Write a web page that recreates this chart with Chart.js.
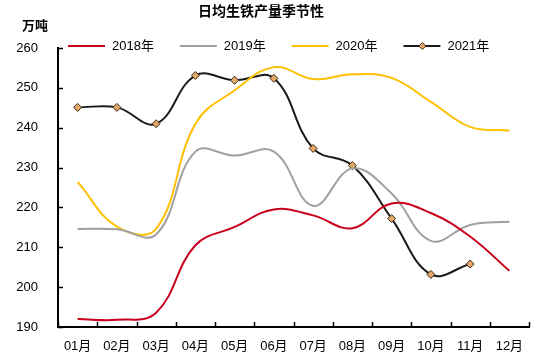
<!DOCTYPE html>
<html>
<head>
<meta charset="utf-8">
<script src="https://cdn.jsdelivr.net/npm/chart.js@4"></script>
<style>
  html, body { margin: 0; padding: 0; background: #fff; }
  #wrap { width: 550px; height: 360px; }
</style>
</head>
<body>
<div id="wrap"><canvas id="c" width="550" height="360"></canvas></div>
<script>
var months = ['01月', '02月', '03月', '04月', '05月', '06月', '07月', '08月', '09月', '10月', '11月', '12月'];
var y2018 = [192.0, 191.8, 193.6, 210.5, 215.1, 219.5, 218.0, 214.8, 221.0, 218.6, 212.7, 204.1];
var y2019 = [214.6, 214.5, 213.2, 234.0, 233.0, 234.0, 220.4, 229.8, 223.5, 211.6, 215.6, 216.4];
var y2020 = [226.4, 215.2, 214.6, 241.0, 249.4, 255.2, 252.2, 253.4, 252.5, 246.5, 240.2, 239.3];
var y2021 = [245.1, 245.1, 241.0, 253.1, 251.9, 252.4, 234.8, 230.5, 217.2, 203.2, 205.8, null];
var seriesNames = ['2018年', '2019年', '2020年', '2021年'];
var yTicks = [190, 200, 210, 220, 230, 240, 250, 260];

var FONT = '"Liberation Sans", Arial, "Noto Sans CJK SC", sans-serif';
var CJK = '"Noto Sans CJK SC", "Liberation Sans", sans-serif';

// title, unit, legend and inward tick marks
var decor = {
    id: 'decor',
    afterDraw: function (chart) {
        var ctx = chart.ctx;
        var xs = chart.scales.x;
        var ys = chart.scales.y;
        var area = chart.chartArea;
        ctx.save();

        ctx.fillStyle = '#000';
        ctx.textBaseline = 'middle';
        ctx.font = 'bold 14px ' + CJK;
        ctx.textAlign = 'center';
        ctx.fillText('日均生铁产量季节性', 261, 11);
        ctx.font = 'bold 13px ' + CJK;
        ctx.textAlign = 'left';
        ctx.fillText('万吨', 22, 25);

        // legend
        var x0 = 68;
        chart.data.datasets.forEach(function (ds, i) {
            var lx = x0 + i * 111.8;
            ctx.strokeStyle = ds.borderColor;
            ctx.lineWidth = 2;
            ctx.beginPath();
            ctx.moveTo(lx, 46);
            ctx.lineTo(lx + 37, 46);
            ctx.stroke();
            if (ds.pointRadius > 0) {
                var mx = lx + 19, my = 46, r = 3.5;
                ctx.fillStyle = ds.pointBackgroundColor;
                ctx.strokeStyle = ds.pointBorderColor;
                ctx.lineWidth = 1;
                ctx.beginPath();
                ctx.moveTo(mx, my - r);
                ctx.lineTo(mx + r, my);
                ctx.lineTo(mx, my + r);
                ctx.lineTo(mx - r, my);
                ctx.closePath();
                ctx.fill();
                ctx.stroke();
            }
            ctx.fillStyle = '#000';
            ctx.font = '13px ' + FONT;
            ctx.textAlign = 'left';
            ctx.fillText(ds.label, lx + 44, 46);
        });

        // inward ticks
        ctx.strokeStyle = '#000';
        ctx.lineWidth = 1.5;
        ys.ticks.forEach(function (t) {
            var py = Math.round(ys.getPixelForValue(t.value)) + 0.5;
            ctx.beginPath();
            ctx.moveTo(area.left, py);
            ctx.lineTo(area.left + 5, py);
            ctx.stroke();
        });
        var half = (xs.getPixelForValue(1) - xs.getPixelForValue(0)) / 2;
        for (var i = 0; i <= months.length; i++) {
            var px = Math.round(xs.getPixelForValue(i) - half) + 0.5;
            ctx.beginPath();
            ctx.moveTo(px, area.bottom);
            ctx.lineTo(px, area.bottom - 5);
            ctx.stroke();
        }
        ctx.restore();
    }
};

function line(label, data, color) {
    return {
        label: label,
        data: data,
        borderColor: color,
        backgroundColor: color,
        borderWidth: 2,
        pointRadius: 0,
        tension: 0.4,
        fill: false
    };
}

var ds2021 = line(seriesNames[3], y2021, '#1a1a1a');
ds2021.pointRadius = 4;
ds2021.pointStyle = 'rectRot';
ds2021.pointBackgroundColor = '#e3a867';
ds2021.pointBorderColor = '#3b2a16';
ds2021.pointBorderWidth = 1;

new Chart(document.getElementById('c'), {
    type: 'line',
    data: {
        labels: months,
        datasets: [
            line(seriesNames[0], y2018, '#c8001e'),
            line(seriesNames[1], y2019, '#a0a0a0'),
            line(seriesNames[2], y2020, '#ffc000'),
            ds2021
        ]
    },
    options: {
        responsive: false,
        animation: false,
        layout: { padding: { top: 48, right: 21, left: 0, bottom: 0 } },
        plugins: {
            legend: { display: false },
            title: { display: false },
            tooltip: { enabled: false }
        },
        scales: {
            x: {
                type: 'category',
                offset: true,
                grid: { display: false, drawOnChartArea: false, drawTicks: false },
                border: { display: true, color: '#000', width: 2 },
                ticks: {
                    color: '#000',
                    padding: 12,
                    maxRotation: 0,
                    autoSkip: false,
                    font: { size: 13, family: FONT }
                },
                afterFit: function (s) { s.height = 33; }
            },
            y: {
                min: 190,
                max: 260,
                afterBuildTicks: function (s) {
                    s.ticks = yTicks.map(function (v) { return { value: v }; });
                },
                grid: { display: false, drawOnChartArea: false, drawTicks: false },
                border: { display: true, color: '#000', width: 2 },
                ticks: {
                    color: '#000',
                    padding: 20,
                    font: { size: 13, family: FONT }
                },
                afterFit: function (s) { s.width = 58; }
            }
        }
    },
    plugins: [decor]
});
</script>
</body>
</html>
